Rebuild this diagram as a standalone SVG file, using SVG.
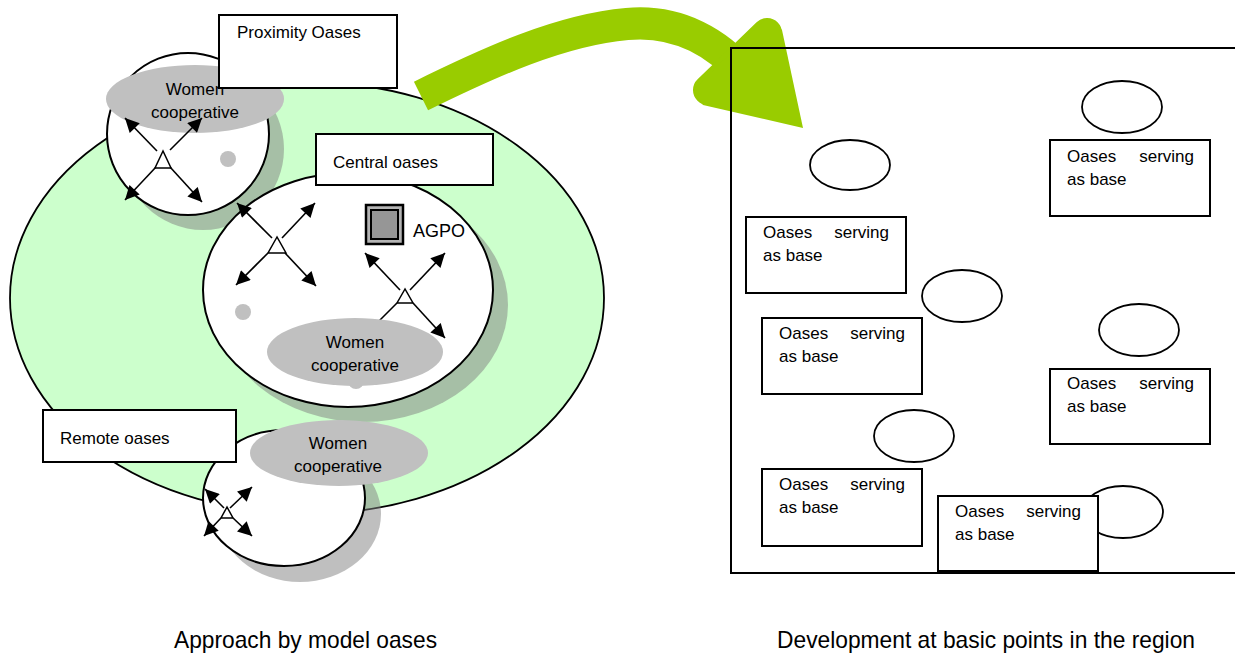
<svg xmlns="http://www.w3.org/2000/svg" width="1235" height="654" viewBox="0 0 1235 654">
<style>
text{font-family:"Liberation Sans",Arial,sans-serif;fill:#000}
.t{font-size:17px}
.c{font-size:17px;text-anchor:middle}
.box{fill:#fff;stroke:#000;stroke-width:2}
.circ{fill:#fff;stroke:#000;stroke-width:2}
.sh{fill:#808080;opacity:0.5}
.wc{fill:#c0c0c0;stroke:none}
.dot{fill:#c0c0c0}
.ar{stroke:#000;stroke-width:1.6;fill:none;marker-end:url(#ah)}
.tri{fill:#fff;stroke:#000;stroke-width:1.5}
.oe{fill:#fff;stroke:#000;stroke-width:1.8}
</style>
<defs>
<marker id="ah" viewBox="0 0 10 10" refX="10" refY="5" markerWidth="16" markerHeight="14" markerUnits="userSpaceOnUse" orient="auto"><path d="M0,0 L10,5 L0,10 z" fill="#000"/></marker>
</defs>
<rect width="1235" height="654" fill="#fff"/>

<g id="region-ellipse">
<ellipse cx="307" cy="298" rx="297" ry="216" fill="#ccffcc" stroke="#000" stroke-width="1.8"/>
</g>

<g id="proximity">
<circle class="sh" cx="203" cy="149" r="81"/>
<ellipse class="circ" cx="188" cy="134" rx="81" ry="81"/>
<ellipse class="wc" cx="195" cy="99" rx="89" ry="34"/>
<text class="c" x="195" y="95">Women</text>
<text class="c" x="195" y="118">cooperative</text>
<circle class="dot" cx="228" cy="159" r="8"/>
<line class="ar" x1="157" y1="151" x2="125" y2="118"/>
<line class="ar" x1="170" y1="150" x2="202" y2="118"/>
<line class="ar" x1="156" y1="167" x2="125" y2="200"/>
<line class="ar" x1="170" y1="167" x2="202" y2="202"/>
<polygon class="tri" points="163,151 155,168 171,168"/>
</g>

<g id="central">
<ellipse class="sh" cx="363" cy="305" rx="145" ry="117"/>
<ellipse class="circ" cx="348" cy="290" rx="145" ry="117"/>
<circle class="dot" cx="243" cy="312" r="8"/>
<circle class="dot" cx="356" cy="381" r="8"/>
<line class="ar" x1="272" y1="238" x2="237" y2="203"/>
<line class="ar" x1="282" y1="238" x2="315" y2="203"/>
<line class="ar" x1="268" y1="253" x2="236" y2="285"/>
<line class="ar" x1="285" y1="253" x2="316" y2="286"/>
<polygon class="tri" points="277,237 268,253 286,253"/>
<line class="ar" x1="400" y1="290" x2="365" y2="253"/>
<line class="ar" x1="410" y1="290" x2="445" y2="253"/>
<line class="ar" x1="397" y1="303" x2="365" y2="335"/>
<line class="ar" x1="413" y1="303" x2="445" y2="338"/>
<polygon class="tri" points="405,289 397,303 413,303"/>
<ellipse class="wc" cx="355" cy="352" rx="88" ry="34"/>
<text class="c" x="355" y="348">Women</text>
<text class="c" x="355" y="371">cooperative</text>
</g>

<g id="agpo">
<rect x="366" y="205" width="37" height="39" fill="#b4b4b4" stroke="#000" stroke-width="2.5"/>
<rect x="371" y="210" width="27" height="29" fill="#969696" stroke="#000" stroke-width="2"/>
<text x="413" y="237" style="font-size:18px">AGPO</text>
</g>

<g id="remote">
<ellipse class="sh" cx="300" cy="514" rx="81" ry="68"/>
<ellipse class="circ" cx="284" cy="498" rx="81" ry="68"/>
<ellipse class="wc" cx="339" cy="453" rx="89" ry="33"/>
<text class="c" x="338" y="449">Women</text>
<text class="c" x="338" y="472">cooperative</text>
<line class="ar" x1="224" y1="508" x2="205" y2="489"/>
<line class="ar" x1="230" y1="508" x2="252" y2="487"/>
<line class="ar" x1="221" y1="518" x2="204" y2="536"/>
<line class="ar" x1="233" y1="518" x2="252" y2="536"/>
<polygon class="tri" points="227,507 221,518 233,518"/>
</g>

<g id="label-proximity">
<rect class="box" x="219" y="15" width="178" height="73"/>
<text class="t" x="237" y="38">Proximity Oases</text>
</g>
<g id="label-central">
<rect class="box" x="316" y="134" width="177" height="51"/>
<text class="t" x="333" y="168">Central oases</text>
</g>
<g id="label-remote">
<rect class="box" x="43" y="410" width="193" height="52"/>
<text class="t" x="60" y="444">Remote oases</text>
</g>

<g id="connectors">
<path d="M421,96 C490,62 560,30 627,24 C680,19 720,45 745,75" fill="none" stroke="#99cc00" stroke-width="32"/>
<line x1="767" y1="33" x2="708" y2="90" stroke="#99cc00" stroke-width="30" stroke-linecap="round"/>
<polygon points="767,18 782,30 803,128 703,105 693,90" fill="#99cc00"/>
</g>

<g id="region-frame">
<path d="M1235,48 H731 V573 H1235" fill="none" stroke="#000" stroke-width="2"/>
</g>

<g id="oasis-1"><ellipse class="oe" cx="850" cy="165" rx="40" ry="25"/></g>
<g id="oasis-2"><ellipse class="oe" cx="1122" cy="107" rx="40" ry="26"/></g>
<g id="oasis-3"><ellipse class="oe" cx="962" cy="296" rx="40" ry="26"/></g>
<g id="oasis-4"><ellipse class="oe" cx="1139" cy="330" rx="40" ry="26"/></g>
<g id="oasis-5"><ellipse class="oe" cx="914" cy="436" rx="40" ry="26"/></g>
<g id="oasis-6"><ellipse class="oe" cx="1123" cy="512" rx="40" ry="26"/></g>

<g id="base-a">
<rect class="box" x="1050" y="140" width="160" height="76"/>
<text class="t" x="1067" y="162">Oases</text><text class="t" x="1194" y="162" text-anchor="end">serving</text>
<text class="t" x="1067" y="185">as base</text>
</g>
<g id="base-b">
<rect class="box" x="746" y="217" width="160" height="76"/>
<text class="t" x="763" y="238">Oases</text><text class="t" x="889" y="238" text-anchor="end">serving</text>
<text class="t" x="763" y="261">as base</text>
</g>
<g id="base-c">
<rect class="box" x="762" y="318" width="160" height="76"/>
<text class="t" x="779" y="339">Oases</text><text class="t" x="905" y="339" text-anchor="end">serving</text>
<text class="t" x="779" y="362">as base</text>
</g>
<g id="base-d">
<rect class="box" x="1050" y="369" width="160" height="75"/>
<text class="t" x="1067" y="389">Oases</text><text class="t" x="1194" y="389" text-anchor="end">serving</text>
<text class="t" x="1067" y="412">as base</text>
</g>
<g id="base-e">
<rect class="box" x="762" y="469" width="160" height="77"/>
<text class="t" x="779" y="490">Oases</text><text class="t" x="905" y="490" text-anchor="end">serving</text>
<text class="t" x="779" y="513">as base</text>
</g>
<g id="base-f">
<rect class="box" x="938" y="496" width="160" height="75"/>
<text class="t" x="955" y="517">Oases</text><text class="t" x="1081" y="517" text-anchor="end">serving</text>
<text class="t" x="955" y="540">as base</text>
</g>

<g id="captions">
<text x="174" y="648" style="font-size:24px" textLength="263" lengthAdjust="spacingAndGlyphs">Approach by model oases</text>
<text x="777" y="648" style="font-size:24px" textLength="418" lengthAdjust="spacingAndGlyphs">Development at basic points in the region</text>
</g>
</svg>
